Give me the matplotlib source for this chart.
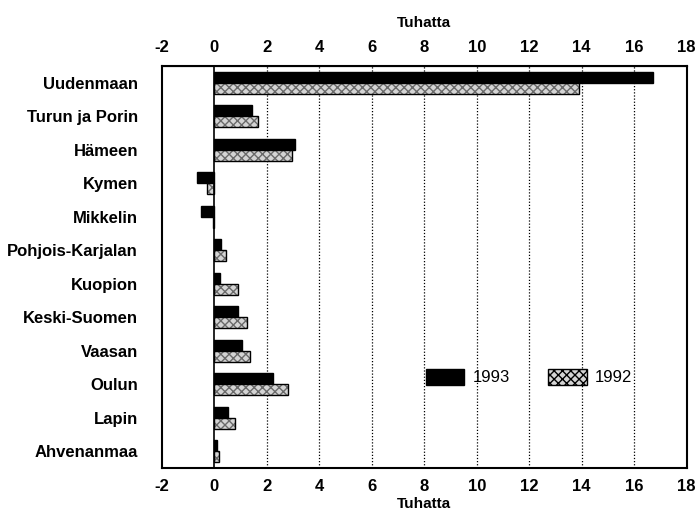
import matplotlib
matplotlib.use('Agg')
import matplotlib.pyplot as plt
import numpy as np
from matplotlib.patches import Patch

plt.rcParams['font.family'] = ['Liberation Sans', 'DejaVu Sans']
plt.rcParams['axes.unicode_minus'] = False

# laanit, tuhatta
laanit = ['Uudenmaan', 'Turun ja Porin', 'Hämeen', 'Kymen', 'Mikkelin',
          'Pohjois-Karjalan', 'Kuopion', 'Keski-Suomen', 'Vaasan', 'Oulun',
          'Lapin', 'Ahvenanmaa']
v1993 = [16.7, 1.43, 3.08, -0.65, -0.5, 0.26, 0.23, 0.9, 1.05, 2.24, 0.51, 0.1]
v1992 = [13.9, 1.67, 2.97, -0.26, -0.03, 0.46, 0.9, 1.24, 1.37, 2.8, 0.81, 0.17]
xticks = list(range(-2, 19, 2))

fig = plt.figure(figsize=(7, 5.2), dpi=100)
ax = fig.add_axes([0.231, 0.1, 0.75, 0.773])

y = np.arange(len(laanit))
h = 0.33
ax.barh(y - h/2, v1993, height=h, color='black', edgecolor='black', lw=1, label='1993', zorder=3)
# stippled grey for 1992: hatch layer + black outline
ax.barh(y + h/2, v1992, height=h, color='#d4d4d4', edgecolor='#6a6a6a', hatch='xxxx', lw=0, zorder=3)
ax.barh(y + h/2, v1992, height=h, fill=False, edgecolor='black', lw=1, zorder=4)

ax.set_xlim(-2, 18)
ax.set_ylim(len(laanit) - 0.5, -0.5)
ax.set_yticks(y)
ax.set_yticklabels(laanit)
ax.set_xticks(xticks)

for xv in xticks[2:-1]:
    ax.axvline(xv, color='black', ls=(0, (1, 1.5)), lw=0.9, zorder=1)
ax.axvline(0, color='black', lw=1.2, zorder=5)

ax.tick_params(axis='y', length=0, pad=17, labelsize=12)
ax.tick_params(axis='x', length=0, labelsize=12, pad=8, top=True, labeltop=True)
for lab in ax.get_xticklabels() + ax.get_yticklabels():
    lab.set_fontweight('bold')
ax.set_xlabel('Tuhatta', fontsize=11, fontweight='bold', labelpad=2)
sec = ax.secondary_xaxis('top')
sec.set_xticks([])
sec.set_xlabel('Tuhatta', fontsize=11, fontweight='bold', labelpad=28)
for s in ax.spines.values():
    s.set_linewidth(1.5)

hnd = [Patch(facecolor='black', edgecolor='black', label='1993'),
       Patch(facecolor='#d4d4d4', edgecolor='black', hatch='xxxx', label='1992')]
ax.legend(handles=hnd, loc='center left', bbox_to_anchor=(0.475, 0.226), ncol=2,
          frameon=False, handlelength=2.3, handleheight=1.1, columnspacing=2.3,
          handletextpad=0.5, prop={'size': 12})

fig.savefig('out.png', dpi=100)
